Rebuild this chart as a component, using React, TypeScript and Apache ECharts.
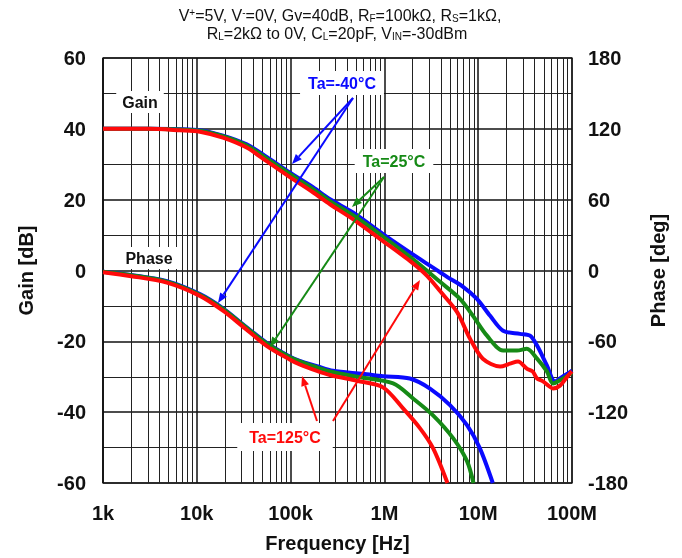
import React, { useEffect, useRef } from "react";
import * as echarts from "echarts";

// x-axis decade labels (1k .. 100M)
const decadeLabels: Record<number, string> = { 3: "1k", 4: "10k", 5: "100k", 6: "1M", 7: "10M", 8: "100M" };
const minorMultipliers = [2, 3, 4, 5, 6, 7, 8, 9];
const decades = [1e3, 1e4, 1e5, 1e6, 1e7];

// Gain [dB] vs frequency [Hz]
const gainFreqBlue = [1e3, 3e3, 6.6e3, 10.8e3, 19e3, 34e3, 56e3, 99e3, 173e3, 263e3, 462e3, 966e3, 2.4e6, 3.92e6, 4.65e6, 6.9e6, 9.7e6, 13.4e6, 18.4e6, 27.9e6, 35.7e6, 42.4e6, 54e6, 65.9e6, 80e6, 90.6e6, 100e6];
const gainBlue = [40, 40, 39.9, 39.6, 38.1, 35.6, 32.0, 27.6, 23.5, 20.1, 16.4, 10.3, 3.2, -0.5, -1.8, -4.6, -8.0, -12.8, -17.0, -17.9, -18.4, -21.2, -26.8, -31.3, -29.9, -29.1, -28.3];

const gainFreqGreen = [1e3, 3e3, 6.6e3, 10.8e3, 19e3, 34e3, 56e3, 99e3, 173e3, 263e3, 462e3, 966e3, 2.2e6, 3.92e6, 6.4e6, 8.8e6, 12.4e6, 18.4e6, 25.9e6, 33e6, 42.4e6, 54e6, 62.7e6, 80e6, 90.6e6, 100e6];
const gainGreen = [40, 40, 39.8, 39.5, 37.9, 35.3, 31.6, 27.2, 23.0, 19.6, 15.6, 9.6, 2.4, -3.2, -8.0, -12.8, -18.4, -22.6, -22.6, -22.1, -24.9, -28.5, -31.9, -30.5, -29.7, -28.8];

const gainFreqRed = [1e3, 3e3, 6.6e3, 10.8e3, 19e3, 34e3, 56e3, 99e3, 173e3, 263e3, 462e3, 966e3, 1.87e6, 2.85e6, 3.92e6, 5.94e6, 8.2e6, 11.2e6, 17.1e6, 21.8e6, 26.6e6, 33e6, 38e6, 42.4e6, 49e6, 56e6, 62.7e6, 74.5e6, 90.6e6, 100e6];
const gainRed = [40, 40, 39.6, 39.2, 37.5, 34.7, 30.8, 26.3, 22.1, 18.7, 14.5, 8.3, 2.7, -1.5, -5.8, -11.7, -19.3, -24.9, -27.1, -26.3, -25.7, -27.7, -28.5, -30.5, -31.3, -32.5, -33.3, -32.5, -29.7, -28.5];

// Phase [deg] vs frequency [Hz]
const phaseFreqBlue = [1e3, 2e3, 4.8e3, 10.8e3, 19e3, 31e3, 56e3, 98.6e3, 125e3, 191e3, 283e3, 592e3, 966e3, 1.87e6, 3.06e6, 5e6, 7.6e6, 10.4e6, 14.3e6];
const phaseBlue = [-1, -3.8, -9, -20, -32, -45.5, -61.5, -73, -76.5, -81, -85, -87.5, -89.5, -91.5, -100, -114, -131, -150.5, -180];

const phaseFreqGreen = [1e3, 2e3, 4.8e3, 10.8e3, 19e3, 31e3, 56e3, 98.6e3, 125e3, 191e3, 263e3, 511e3, 1.24e6, 2.02e6, 3.3e6, 5.4e6, 7.6e6, 8.9e6];
const phaseGreen = [-1, -4, -9.4, -20.5, -32.5, -46, -62, -73.5, -77, -82, -85.5, -90, -95.7, -108.4, -122.7, -142, -161.5, -180];

const phaseFreqRed = [1e3, 2e3, 4.8e3, 10.8e3, 19e3, 31e3, 56e3, 98.6e3, 125e3, 191e3, 263e3, 511e3, 966e3, 1.58e6, 2.4e6, 3.3e6, 4.7e6];
const phaseRed = [-1.5, -4.8, -10.3, -21.5, -34, -47.5, -64, -75.5, -79.5, -85, -88.5, -93.5, -99, -116.8, -133.7, -150.5, -180];

const BLUE = "#0a0aff";
const GREEN = "#168a16";
const RED = "#ff0a0a";
const FONT = "'Liberation Sans', Arial, sans-serif";

function zip(xs: number[], ys: number[]) {
  return xs.map((x, i) => [x, ys[i]]);
}

function arrow(x1: number, y1: number, x2: number, y2: number, color: string) {
  const dx = x2 - x1;
  const dy = y2 - y1;
  const len = Math.sqrt(dx * dx + dy * dy);
  const ux = dx / len;
  const uy = dy / len;
  const hl = 10;
  const hw = 4;
  const bx = x2 - ux * hl;
  const by = y2 - uy * hl;
  return {
    type: "group",
    z: 100,
    children: [
      {
        type: "line",
        z: 100,
        shape: { x1, y1, x2: bx, y2: by },
        style: { stroke: color, lineWidth: 2 },
      },
      {
        type: "polygon",
        z: 100,
        shape: {
          points: [
            [x2, y2],
            [bx - uy * hw, by + ux * hw],
            [bx + uy * hw, by - ux * hw],
          ],
        },
        style: { fill: color },
      },
    ],
  };
}

function boxLabel(x: number, y: number, text: string, color: string, pad: number[]) {
  return {
    type: "text",
    z: 101,
    x,
    y,
    style: {
      text,
      fontSize: 16,
      fontWeight: "bold",
      fontFamily: FONT,
      fill: color,
      align: "center",
      verticalAlign: "middle",
      backgroundColor: "#ffffff",
      padding: pad,
    },
  };
}

export default function App() {
  const ref = useRef<HTMLDivElement>(null);

  useEffect(() => {
    if (!ref.current) return;
    const chart = echarts.init(ref.current, undefined, { renderer: "svg" });

    const minorLines: any[] = [];
    decades.forEach((d) => minorMultipliers.forEach((m) => minorLines.push({ xAxis: d * m })));

    const curve = (name: string, data: number[][], color: string, yIndex: number) => ({
      name,
      type: "line",
      yAxisIndex: yIndex,
      data,
      showSymbol: false,
      symbol: "none",
      smooth: 0.3,
      z: 5,
      lineStyle: { color, width: 4 },
      clip: true,
    });

    const subRich = {
      sub: { fontSize: 10, fontFamily: FONT, fill: "#111", verticalAlign: "bottom", lineHeight: 11 },
      sup: { fontSize: 10, fontFamily: FONT, fill: "#111", verticalAlign: "top", lineHeight: 11 },
    };

    chart.setOption({
      animation: false,
      grid: {
        left: 103,
        right: 110,
        top: 58,
        bottom: 73,
        show: true,
        borderColor: "#555",
        borderWidth: 1.5,
        backgroundColor: "#fff",
      },
      xAxis: {
        type: "log",
        logBase: 10,
        min: 1e3,
        max: 1e8,
        axisLine: { show: false },
        axisTick: { show: false },
        splitLine: { show: true, lineStyle: { color: "#111", width: 1.5 } },
        axisLabel: {
          fontSize: 20,
          fontWeight: "bold",
          fontFamily: FONT,
          color: "#111",
          margin: 20,
          formatter: (v: number) => decadeLabels[Math.round(Math.log10(v))] ?? "",
        },
        name: "Frequency [Hz]",
        nameLocation: "middle",
        nameGap: 50,
        nameTextStyle: { fontSize: 20, fontWeight: "bold", fontFamily: FONT, color: "#111" },
      },
      yAxis: [
        {
          type: "value",
          min: -60,
          max: 60,
          interval: 20,
          axisLine: { show: false },
          axisTick: { show: false },
          splitLine: { show: true, lineStyle: { color: "#111", width: 1.5 } },
          minorTick: { show: false, splitNumber: 2 },
          minorSplitLine: { show: true, lineStyle: { color: "#222", width: 1 } },
          axisLabel: { fontSize: 20, fontWeight: "bold", fontFamily: FONT, color: "#111", margin: 17 },
          name: "Gain [dB]",
          nameLocation: "middle",
          nameRotate: 90,
          nameGap: 67,
          nameTextStyle: { fontSize: 20, fontWeight: "bold", fontFamily: FONT, color: "#111" },
        },
        {
          type: "value",
          position: "right",
          min: -180,
          max: 180,
          interval: 60,
          axisLine: { show: false },
          axisTick: { show: false },
          splitLine: { show: false },
          axisLabel: { fontSize: 20, fontWeight: "bold", fontFamily: FONT, color: "#111", margin: 16 },
          name: "Phase [deg]",
          nameLocation: "middle",
          nameRotate: 90,
          nameGap: 76,
          nameTextStyle: { fontSize: 20, fontWeight: "bold", fontFamily: FONT, color: "#111" },
        },
      ],
      series: [
        {
          name: "grid-minor",
          type: "line",
          data: [],
          z: 1,
          silent: true,
          markLine: {
            silent: true,
            symbol: "none",
            label: { show: false },
            lineStyle: { color: "#222", width: 1, type: "solid" },
            data: minorLines,
          },
        },
        curve("Gain Ta=-40°C", zip(gainFreqBlue, gainBlue), BLUE, 0),
        curve("Gain Ta=25°C", zip(gainFreqGreen, gainGreen), GREEN, 0),
        curve("Gain Ta=125°C", zip(gainFreqRed, gainRed), RED, 0),
        curve("Phase Ta=-40°C", zip(phaseFreqBlue, phaseBlue), BLUE, 1),
        curve("Phase Ta=25°C", zip(phaseFreqGreen, phaseGreen), GREEN, 1),
        curve("Phase Ta=125°C", zip(phaseFreqRed, phaseRed), RED, 1),
      ],
      graphic: [
        {
          type: "text",
          x: 340,
          y: 15,
          z: 100,
          style: {
            text: "V{sup|+}=5V, V{sup|-}=0V, Gv=40dB, R{sub|F}=100kΩ, R{sub|S}=1kΩ,",
            fontSize: 16,
            fontFamily: FONT,
            fill: "#111",
            align: "center",
            verticalAlign: "middle",
            rich: subRich,
          },
        },
        {
          type: "text",
          x: 337,
          y: 33,
          z: 100,
          style: {
            text: "R{sub|L}=2kΩ to 0V, C{sub|L}=20pF, V{sub|IN}=-30dBm",
            fontSize: 16,
            fontFamily: FONT,
            fill: "#111",
            align: "center",
            verticalAlign: "middle",
            rich: subRich,
          },
        },
        boxLabel(140, 102, "Gain", "#111", [3, 6, 3, 6]),
        boxLabel(149, 258, "Phase", "#111", [3, 6, 3, 6]),
        arrow(353, 98, 292, 164, BLUE),
        arrow(353, 98, 218, 303, BLUE),
        arrow(384, 177, 352, 207, GREEN),
        arrow(384, 177, 270, 347, GREEN),
        arrow(317, 421, 302, 376, RED),
        arrow(333, 421, 420, 280, RED),
        boxLabel(342, 83, "Ta=-40°C", BLUE, [4, 8, 4, 8]),
        boxLabel(394, 161, "Ta=25°C", GREEN, [4, 8, 4, 8]),
        boxLabel(285, 437, "Ta=125°C", RED, [6, 12, 6, 12]),
      ],
    });

    return () => chart.dispose();
  }, []);

  return <div ref={ref} style={{ position: "fixed", left: 0, top: 0, width: 682, height: 558 }} />;
}
